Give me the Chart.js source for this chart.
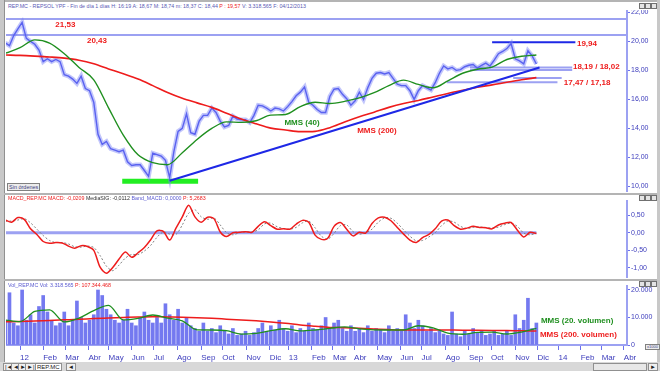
<!DOCTYPE html>
<html>
<head>
<meta charset="utf-8">
<script src="https://cdn.jsdelivr.net/npm/chart.js@4"></script>
<style>
body { margin: 0; width: 660px; height: 371px; overflow: hidden; background: #fff; position: relative;
       font-family: "Liberation Sans", Arial, sans-serif; }
canvas { position: absolute; }
.bar { position: absolute; background: #b4b4b4; }
.hdr { position: absolute; left: 8px; font-size: 5.3px; line-height: 6px; white-space: nowrap; color: #5a5ab4; z-index: 3; }
.r { color: #ee2020; } .k { color: #303030; } .b { color: #5a5ad0; }
.win { position: absolute; width: 4px; height: 4px; border: 1px solid #707070; background: #e4e4e4; z-index: 3; }
.btn { position: absolute; font-size: 5.5px; line-height: 6px; border: 1px solid #808080; background: #ececec; color: #404080; padding: 0 1px; z-index: 3; }
#foot { position: absolute; left: 0; top: 362px; width: 660px; height: 9px; background: #d8d8d8; }
.nav { position: absolute; top: 363px; height: 6px; font-size: 6px; line-height: 6px; color: #202020; border: 1px solid #909090; background: #f0f0f0; padding: 0 1px; }
</style>
</head>
<body>
<div class="bar" style="left:0;top:0;width:660px;height:2px"></div>
<div class="bar" style="left:0;top:0;width:4px;height:362px;background:#c8c8c8;border-right:1px solid #909090"></div>
<div class="bar" style="left:657px;top:0;width:3px;height:362px;background:#c8c8c8"></div>
<div class="bar" style="left:4px;top:193px;width:653px;height:2px"></div>
<div class="bar" style="left:4px;top:279px;width:653px;height:2px"></div>

<div class="hdr" style="top:3px">REP.MC - REPSOL YPF - Fin de día 1 días H: 16:19 A: 18,67 M: 18,74 m: 18,37 C: 18,44 <span class="r">P : 19,57</span> V: 3.318.565 F: 04/12/2013</div>
<div class="hdr" style="top:195px"><span class="r">MACD_REP.MC MACD: -0,0209</span> <span class="k">MediaSIG: -0,0112</span> <span class="b">Band_MACD: 0,0000</span> <span class="r">P: 5,2683</span></div>
<div class="hdr" style="top:282px"><span class="b">Vol_REP.MC Vol: 3.318.565</span> <span class="r">P: 107.344.468</span></div>

<div class="win" style="left:639px;top:3px"></div><div class="win" style="left:645px;top:3px"></div><div class="win" style="left:651px;top:3px"></div>
<div class="win" style="left:639px;top:195px"></div><div class="win" style="left:645px;top:195px"></div><div class="win" style="left:651px;top:195px"></div>
<div class="win" style="left:639px;top:281px"></div><div class="win" style="left:645px;top:281px"></div><div class="win" style="left:651px;top:281px"></div>

<div class="btn" style="left:7px;top:183px">Sin órdenes</div>
<div class="btn" style="left:645px;top:344px;font-size:4px;line-height:4px">x1000</div>

<canvas id="price" width="650" height="182" style="left:6px;top:10px"></canvas>
<canvas id="macd" width="650" height="78" style="left:6px;top:200px"></canvas>
<canvas id="vol" width="650" height="77" style="left:6px;top:285px"></canvas>

<div id="foot"></div>
<div class="nav" style="left:3px">|◄</div><div class="nav" style="left:11px">◄</div><div class="nav" style="left:18px">►</div><div class="nav" style="left:25px">►|</div>
<div class="nav" style="left:35px;background:#fff">REP.MC</div><div class="nav" style="left:66px">◄</div>
<div class="nav" style="left:593px;width:50px;background:#e8e8e8"></div><div class="nav" style="left:648px">►</div>

<script>
// sessions counted from first trading day of Jan 2012
const START = -14;
const X_MIN = -13.3, X_MAX = 576;

const monthTicks = [0, 22, 43, 65, 84, 106, 127, 149, 172, 192, 215, 237, 255, 277, 297, 317, 339, 361, 381, 404, 426, 447, 470, 491, 511, 532, 552, 573];
const monthLabels = ['12', 'Feb', 'Mar', 'Abr', 'May', 'Jun', 'Jul', 'Ago', 'Sep', 'Oct', 'Nov', 'Dic', '13', 'Feb', 'Mar', 'Abr', 'May', 'Jun', 'Jul', 'Ago', 'Sep', 'Oct', 'Nov', 'Dic', '14', 'Feb', 'Mar', 'Abr'];

const priceTicks = [10, 12, 14, 16, 18, 20, 22];
const macdTicks = [0.5, 0, -0.5, -1];
const volTicks = [0, 10000, 20000];

// closes, every 4 sessions
const PRICE_STEP = 4;
const closes = [
  19.9, 19.7, 20.4, 20.85, 21.3, 20.2, 20.0, 19.8, 19.4, 18.6,
  18.8, 18.6, 18.75, 18.6, 17.7, 17.6, 17.4, 17.1, 17.6, 16.75,
  16.6, 15.8, 13.6, 12.9, 13.1, 12.6, 12.5, 12.4, 12.5, 11.7,
  11.45, 11.5, 11.5, 11.1, 10.7, 12.3, 12.2, 12.1, 11.8, 10.6,
  12.4, 13.8, 14.0, 15.0, 13.7, 13.6, 14.5, 14.9, 14.9, 15.4,
  15.1, 14.5, 14.1, 14.2, 14.85, 14.65, 14.6, 14.6, 14.4, 14.9,
  15.6, 15.55, 15.4, 15.2, 15.4, 15.35, 15.2, 15.5, 15.85, 16.25,
  16.5, 16.85, 15.8, 15.6, 15.3, 15.1, 15.1, 16.2, 16.7, 16.75,
  16.35, 16.05, 15.6, 15.9, 16.5, 16.0, 16.8, 17.45, 17.8, 17.85,
  17.75, 17.85, 17.45, 17.05, 16.95, 16.95, 16.6, 16.0, 16.6, 16.95,
  16.8, 16.65, 17.15, 17.8, 18.3, 18.1, 18.2, 18.0, 18.05, 18.25,
  18.35, 18.4, 18.15, 18.35, 18.5, 18.3, 18.7, 19.15, 19.3, 19.5,
  19.85, 18.8, 18.65, 18.45, 19.35, 19.0, 18.44
];

// moving averages, every 14 sessions
const MA_STEP = 14;
const mms40 = [19.17, 19.56, 20.1, 19.88, 19.15, 18.2, 17.35, 15.42, 13.54, 12.18, 11.64, 11.5, 12.33, 13.24, 14.0, 14.45, 14.42, 14.53, 14.92, 14.96, 15.5, 15.8, 15.72, 15.86, 16.1, 16.46, 16.95, 17.33, 17.03, 16.8, 17.28, 17.8, 18.08, 18.22, 18.75, 18.97, 19.06];
const mms200 = [19.06, 19.03, 18.98, 18.92, 18.84, 18.7, 18.45, 18.1, 17.76, 17.4, 16.95, 16.48, 16.08, 15.76, 15.45, 15.05, 14.65, 14.32, 14.02, 13.89, 13.78, 13.8, 14.05, 14.44, 14.8, 15.12, 15.45, 15.72, 15.93, 16.17, 16.41, 16.63, 16.84, 17.0, 17.18, 17.35, 17.5];

// support / resistance levels
const levelValues = [21.53, 20.43, 19.94, 18.19, 18.02, 17.47, 17.18];
const levelFrom = [X_MIN, X_MIN, 448, 427, 427, 468, 405];
const levelTo = [X_MAX, X_MAX, 527, 524, 524, 514, 510];
const trendFrom = [142, 10.4], trendTo = [493, 18.2];
const baseZone = [97, 169, 10.36];

// MACD, every 6 sessions
const MACD_STEP = 6;
const macd = [
  0.36, 0.30, 0.43, 0.38, 0.11, -0.05, -0.25, -0.30, -0.28, -0.29,
  -0.38, -0.44, -0.37, -0.39, -0.50, -0.98, -1.15, -0.99, -0.75, -0.55,
  -0.70, -0.57, -0.42, -0.20, 0.05, 0.04, -0.21, 0.13, 0.45, 0.78,
  0.45, 0.30, 0.44, 0.40, 0.02, -0.11, 0.0, 0.01, 0.03, 0.01,
  0.18, 0.31, 0.20, 0.10, 0.11, 0.10, 0.24, 0.35, 0.30, -0.07,
  -0.19, -0.16, 0.18, 0.29, 0.10, -0.09, 0.01, -0.01, 0.26, 0.42,
  0.44, 0.34, 0.15, -0.04, -0.21, -0.28, -0.14, -0.05, 0.11, 0.33,
  0.36, 0.20, 0.10, 0.13, 0.18, 0.15, 0.14, 0.11, 0.22, 0.27,
  0.29, 0.07, -0.12, 0.01, -0.02
];
const mediaSig = [
  0.33, 0.33, 0.36, 0.40, 0.28, 0.10, -0.08, -0.22, -0.28, -0.28,
  -0.32, -0.40, -0.41, -0.38, -0.42, -0.65, -0.95, -1.08, -0.92, -0.72,
  -0.62, -0.62, -0.52, -0.36, -0.13, 0.02, -0.04, -0.05, 0.22, 0.55,
  0.65, 0.45, 0.38, 0.42, 0.22, 0.0, -0.06, 0.0, 0.02, 0.02,
  0.08, 0.25, 0.27, 0.17, 0.12, 0.10, 0.15, 0.28, 0.33, 0.14,
  -0.10, -0.18, -0.02, 0.20, 0.22, 0.03, -0.04, 0.0, 0.10, 0.30,
  0.42, 0.41, 0.27, 0.08, -0.10, -0.23, -0.22, -0.12, 0.0, 0.20,
  0.33, 0.30, 0.18, 0.12, 0.15, 0.16, 0.15, 0.13, 0.16, 0.23,
  0.27, 0.18, -0.01, -0.06, -0.01
];

// volume (thousands), every 4 sessions
const VOL_STEP = 4;
const volume = [
  9000, 19000, 8000, 7000, 20000, 9000, 11000, 8000, 14000, 18000,
  12000, 9000, 7000, 8000, 12000, 7000, 9000, 16000, 10000, 8000,
  9000, 11000, 20000, 18000, 13000, 11000, 9000, 8000, 9000, 13000,
  8000, 7000, 10000, 12000, 9000, 8000, 10000, 8000, 15000, 11000,
  9000, 13000, 8000, 10000, 7000, 6000, 5000, 8000, 5000, 6000,
  4500, 7000, 5000, 4000, 6000, 3500, 4000, 5000, 3500, 4500,
  6000, 8000, 5000, 7000, 5500, 9000, 6000, 5000, 7000, 4500,
  6000, 5000, 8000, 6000, 5500, 7000, 10000, 6000, 8000, 9000,
  6000, 5000, 7000, 5000, 6000, 4500, 7000, 5000, 6000, 5500,
  4500, 7000, 5000, 6000, 5000, 11000, 8000, 6000, 9000, 7000,
  5000, 6000, 4500, 5000, 4000, 3500, 12000, 4000, 3000, 5000,
  4000, 6000, 4500, 5000, 3500, 4000, 5000, 3500, 4000, 5000,
  3500, 11000, 6000, 9000, 17000, 6000, 8000
];
const volMms20 = [9100, 8500, 12200, 12800, 8400, 9800, 12500, 14400, 9100, 9700, 10900, 9800, 8800, 5500, 5450, 5200, 3950, 4200, 5200, 5900, 5100, 5450, 6060, 6600, 5850, 5500, 5450, 5450, 7000, 6200, 4300, 3900, 4600, 4700, 4000, 4700, 6060];
const volMms200 = [8470, 8550, 8700, 8950, 9150, 9350, 9600, 9800, 10000, 10200, 10300, 10200, 10100, 9950, 9700, 9400, 9100, 8800, 8400, 7900, 7270, 6800, 6400, 6300, 6100, 5850, 5600, 5450, 5450, 5450, 5420, 5400, 5350, 5300, 5250, 5150, 5090];

// text notes placed in data coordinates (session, value)
const priceNotes = [
  ['21,53', 43, 21.17], ['20,43', 73, 20.07], ['19,94', 528.5, 19.86],
  ['18,19 / 18,02', 524.7, 18.28], ['17,47 / 17,18', 516, 17.17],
  ['MMS (40)', 267.6, 14.41], ['MMS (200)', 338.7, 13.86]
];
const volNotes = [['MMS (20. volumen)', 494.3, 8730], ['MMS (200. volumen)', 493.4, 3640]];

const RED = '#ee1c1c', GREEN = '#1f8f1f', BLUE = '#5a62f0', LIGHT = '#9ca1f2', DARK = '#1e28e6';

function series(values, step) {
  return values.map((v, i) => ({ x: START + i * step, y: v }));
}
function segment(x0, x1, y0, y1) {
  return [{ x: x0, y: y0 }, { x: x1, y: y1 }];
}
const comma = v => v.toFixed(2).replace('.', ',');

function xAxis(show) {
  return {
    type: 'linear', min: X_MIN, max: X_MAX, display: show, offset: false,
    afterBuildTicks: s => { s.ticks = monthTicks.map(v => ({ value: v })); },
    afterFit: s => { s.height = show ? 17 : 0; s.paddingLeft = 0; s.paddingRight = 0; },
    grid: { drawOnChartArea: false, color: '#6a70ee', tickLength: 5, offset: false },
    border: { color: LIGHT, width: 2 },
    ticks: { autoSkip: false, maxRotation: 0, align: 'start', color: '#3c3cbc', padding: 3,
             font: { size: 8, family: 'Liberation Sans' }, callback: (v, i) => monthLabels[i] }
  };
}
function yAxis(min, max, ticks, fmt) {
  return {
    position: 'right', min, max,
    afterBuildTicks: s => { s.ticks = ticks.map(v => ({ value: v })); },
    afterFit: s => { s.width = 29; s.paddingTop = 0; s.paddingBottom = 0; },
    grid: { drawOnChartArea: false, color: '#6a70ee', tickLength: 3 },
    border: { color: LIGHT, width: 2 },
    ticks: { color: '#3c3cbc', padding: 1, font: { size: 7, family: 'Liberation Sans' }, callback: v => fmt(v) }
  };
}

const notesPlugin = {
  id: 'notes',
  afterDatasetsDraw(chart, args, opts) {
    const { ctx, scales } = chart;
    ctx.save();
    ctx.font = 'bold 8px "Liberation Sans", Arial';
    ctx.textBaseline = 'middle';
    (opts.items || []).forEach((n, i) => {
      ctx.fillStyle = opts.colors[i];
      ctx.textAlign = opts.aligns[i];
      ctx.fillText(n[0], scales.x.getPixelForValue(n[1]), scales.y.getPixelForValue(n[2]));
    });
    ctx.restore();
  }
};

const base = {
  responsive: false, animation: false, devicePixelRatio: 1,
  layout: { padding: 0 },
  elements: { point: { radius: 0 } },
  plugins: { legend: { display: false }, tooltip: { enabled: false } }
};
const line = (data, color, width, extra) => Object.assign({ type: 'line', data, borderColor: color, borderWidth: width, fill: false, pointRadius: 0 }, extra || {});

// price panel
const levelColors = [LIGHT, LIGHT, DARK, LIGHT, LIGHT, LIGHT, LIGHT];
new Chart(document.getElementById('price'), {
  type: 'line',
  data: {
    datasets: [
      ...levelValues.map((v, i) => line(segment(levelFrom[i], levelTo[i], v, v), levelColors[i], 2, { order: 9 })),
      line(segment(baseZone[0], baseZone[1], baseZone[2], baseZone[2]), '#22ee22', 5, { order: 8 }),
      // wide pale stroke under the closes stands in for the daily high-low bars
      line(series(closes, PRICE_STEP), 'rgba(120,128,246,0.45)', 4.5, { order: 6 }),
      line(series(closes, PRICE_STEP), BLUE, 1.4, { order: 5 }),
      line(series(mms200, MA_STEP), RED, 1.6, { order: 3, cubicInterpolationMode: 'monotone' }),
      line(segment(trendFrom[0], trendTo[0], trendFrom[1], trendTo[1]), DARK, 2, { order: 2 }),
      line(series(mms40, MA_STEP), GREEN, 1.4, { order: 1, cubicInterpolationMode: 'monotone' })
    ]
  },
  options: Object.assign({}, base, {
    scales: { x: xAxis(false), y: yAxis(9.621, 22.158, priceTicks, comma) },
    plugins: Object.assign({}, base.plugins, {
      notes: { items: priceNotes, colors: [RED, RED, RED, RED, RED, GREEN, RED], aligns: ['center', 'center', 'left', 'left', 'left', 'center', 'center'] }
    })
  }),
  plugins: [notesPlugin]
});

// MACD panel
new Chart(document.getElementById('macd'), {
  type: 'line',
  data: {
    datasets: [
      line(segment(START, START + (macd.length - 1) * MACD_STEP, 0, 0), LIGHT, 3, { order: 3 }),
      line(series(mediaSig, MACD_STEP), '#808080', 1, { order: 2, borderDash: [2, 2], tension: 0.3 }),
      line(series(macd, MACD_STEP), RED, 1.5, { order: 1, tension: 0.3 })
    ]
  },
  options: Object.assign({}, base, {
    scales: { x: xAxis(false), y: yAxis(-1.287, 0.929, macdTicks, comma) }
  })
});

// volume panel
new Chart(document.getElementById('vol'), {
  type: 'line',
  data: {
    datasets: [
      { type: 'bar', data: series(volume, VOL_STEP), backgroundColor: '#7479f0', barThickness: 3, grouped: false, order: 3 },
      line(series(volMms200, MA_STEP), RED, 1.5, { order: 2, cubicInterpolationMode: 'monotone' }),
      line(series(volMms20, MA_STEP), GREEN, 1.3, { order: 1, cubicInterpolationMode: 'monotone' })
    ]
  },
  options: Object.assign({}, base, {
    scales: { x: xAxis(true), y: yAxis(0, 21818, volTicks, v => v.toLocaleString('de-DE')) },
    plugins: Object.assign({}, base.plugins, {
      notes: { items: volNotes, colors: [GREEN, RED], aligns: ['left', 'left'] }
    })
  }),
  plugins: [notesPlugin]
});
</script>
</body>
</html>
